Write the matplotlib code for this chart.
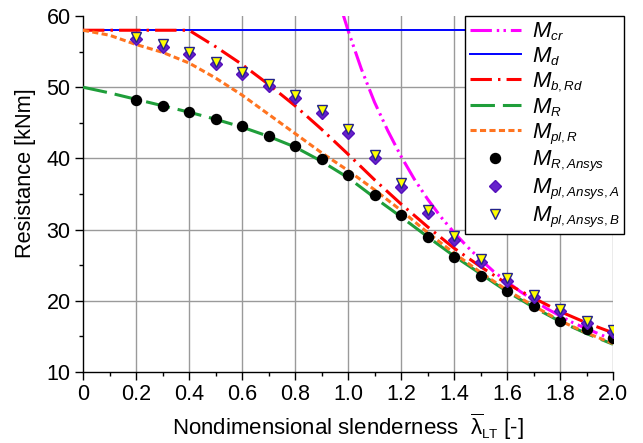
import matplotlib
matplotlib.use("Agg")
import matplotlib.pyplot as plt
import matplotlib._mathtext as _mt
from matplotlib.ticker import MultipleLocator, FixedLocator

_mt.SHRINK_FACTOR = 0.6

plt.rcParams['font.family'] = ['Liberation Sans', 'DejaVu Sans']
plt.rcParams['mathtext.fontset'] = 'custom'
plt.rcParams['mathtext.it'] = 'Liberation Sans:italic'
plt.rcParams['mathtext.rm'] = 'Liberation Sans'
plt.rcParams['mathtext.bf'] = 'Liberation Sans:bold'

# ---- data ----
lam_line = [0.0, 0.1, 0.2, 0.3, 0.4, 0.5, 0.6, 0.7, 0.8, 0.9, 1.0,
            1.1, 1.2, 1.3, 1.4, 1.5, 1.6, 1.7, 1.8, 1.9, 2.0]
M_d = [58.0] * len(lam_line)
M_bRd = [58.0, 58.0, 58.0, 58.0, 58.0, 55.7, 53.2, 50.4, 47.4, 44.1, 40.6,
         37.0, 33.6, 30.4, 27.4, 24.8, 22.4, 20.4, 18.5, 16.9, 15.5]
M_R = [50.0, 49.2, 48.3, 47.4, 46.5, 45.5, 44.4, 43.1, 41.6, 39.6, 37.3,
       34.5, 31.8, 29.0, 26.3, 23.8, 21.3, 19.1, 17.1, 15.4, 13.9]
M_plR = [58.0, 57.3, 56.0, 54.9, 53.4, 51.3, 48.9, 46.2, 43.5, 40.8, 38.3,
         35.6, 32.7, 29.6, 26.7, 24.0, 21.5, 19.3, 17.2, 15.5, 14.0]

lam_cr = [0.98, 1.0, 1.05, 1.1, 1.15, 1.2, 1.25, 1.3, 1.35, 1.4, 1.45, 1.5,
          1.55, 1.6, 1.65, 1.7, 1.75, 1.8, 1.85, 1.9, 1.95, 2.0]
M_cr = [60.4, 58.0, 52.6, 47.9, 43.9, 40.3, 37.1, 34.3, 31.8, 29.6, 27.6, 25.8,
        24.1, 22.7, 21.3, 20.1, 18.9, 17.9, 16.9, 16.1, 15.3, 14.5]

lam_pts = [0.2, 0.3, 0.4, 0.5, 0.6, 0.7, 0.8, 0.9, 1.0, 1.1,
           1.2, 1.3, 1.4, 1.5, 1.6, 1.7, 1.8, 1.9, 2.0]
M_R_ansys = [48.2, 47.3, 46.5, 45.5, 44.5, 43.2, 41.7, 39.9, 37.6, 34.9,
             32.0, 29.0, 26.1, 23.5, 21.4, 19.2, 17.2, 16.0, 14.8]
M_pl_A = [56.7, 55.7, 54.7, 53.3, 51.9, 50.2, 48.5, 46.4, 43.6, 40.0,
          36.0, 32.3, 28.6, 25.5, 22.8, 20.5, 18.5, 16.9, 15.6]
M_pl_B = [57.0, 56.0, 55.0, 53.6, 52.2, 50.5, 48.9, 46.8, 44.1, 40.5,
          36.5, 32.8, 29.1, 25.9, 23.2, 20.8, 18.8, 17.2, 15.9]

xticks = [0, 0.2, 0.4, 0.6, 0.8, 1.0, 1.2, 1.4, 1.6, 1.8, 2.0]
xticklabels = ['0', '0.2', '0.4', '0.6', '0.8', '1.0', '1.2', '1.4', '1.6', '1.8', '2.0']
yticks = [10, 20, 30, 40, 50, 60]

# ---- figure ----
fig = plt.figure(figsize=(6.43, 4.43), dpi=100)
ax = fig.add_axes([83/643, 1-372/443, 530/643, 356/443])

ax.set_xlim(0, 2.0)
ax.set_ylim(10, 60)

ax.xaxis.set_major_locator(FixedLocator(xticks))
ax.set_xticklabels(xticklabels)
ax.xaxis.set_minor_locator(MultipleLocator(0.1))
ax.yaxis.set_major_locator(FixedLocator(yticks))
ax.yaxis.set_minor_locator(MultipleLocator(5))

for x in xticks[1:]:
    ax.axvline(x, color='#9a9a9a', lw=1.0, zorder=0)
for y in yticks[1:-1]:
    ax.axhline(y, color='#9a9a9a', lw=1.0, zorder=0)

ax.spines['top'].set_visible(False)
ax.spines['right'].set_visible(False)
ax.spines['left'].set_linewidth(1.0)
ax.spines['bottom'].set_linewidth(1.0)
ax.tick_params(which='major', direction='out', length=6, width=1.0, labelsize=15.5, pad=3)
ax.tick_params(which='minor', direction='out', length=3, width=1.0)

lw = 2.2
ax.plot(lam_cr, M_cr, color='#ff00ff', lw=lw, dashes=(7.0, 1.6, 0.8, 1.4, 0.8, 1.6),
        label=r'$M_{cr}$', zorder=3)
ax.plot(lam_line, M_d, color='#0000ff', lw=1.4, label=r'$M_{d}$', zorder=3)
ax.plot(lam_line, M_bRd, color='#ff0000', lw=lw, dashes=(7.0, 2.0, 0.8, 2.0),
        label=r'$M_{b,Rd}$', zorder=3)
ax.plot(lam_line, M_R, color='#1f9e3a', lw=lw, dashes=(8.0, 2.6),
        label=r'$M_{R}$', zorder=3)
ax.plot(lam_line, M_plR, color='#ff7420', lw=lw, dashes=(2.0, 1.1),
        label=r'$M_{pl,R}$', zorder=3)
ax.plot(lam_pts, M_R_ansys, linestyle='none', marker='o', ms=7.2, mfc='black',
        mec='black', label=r'$M_{R,Ansys}$', zorder=4)
ax.plot(lam_pts, M_pl_A, linestyle='none', marker='D', ms=6.5, mfc='#6622cc',
        mec='#5511bb', label=r'$M_{pl,Ansys,A}$', zorder=4)
ax.plot(lam_pts, M_pl_B, linestyle='none', marker='v', ms=7.5, mfc='#ffff00',
        mec='#222288', mew=1.0, label=r'$M_{pl,Ansys,B}$', zorder=5)

leg = ax.legend(loc='upper right', bbox_to_anchor=(624/643, 1-16/443),
                bbox_transform=fig.transFigure, fontsize=16, frameon=True,
                fancybox=False, edgecolor='black', framealpha=1.0,
                handlelength=2.3, handletextpad=0.5, labelspacing=0.1,
                borderpad=0.2, borderaxespad=0.0)
leg.get_frame().set_linewidth(1.0)
leg.set_zorder(10)

ax.set_xlabel(r'Nondimensional slenderness  $\overline{\mathrm{\lambda}}_{\mathrm{LT}}$ [-]',
              fontsize=16, labelpad=4)
ax.set_ylabel('Resistance [kNm]', fontsize=15.7)
ax.yaxis.set_label_coords(-0.089, 0.559)

fig.savefig('out.png', dpi=100)
